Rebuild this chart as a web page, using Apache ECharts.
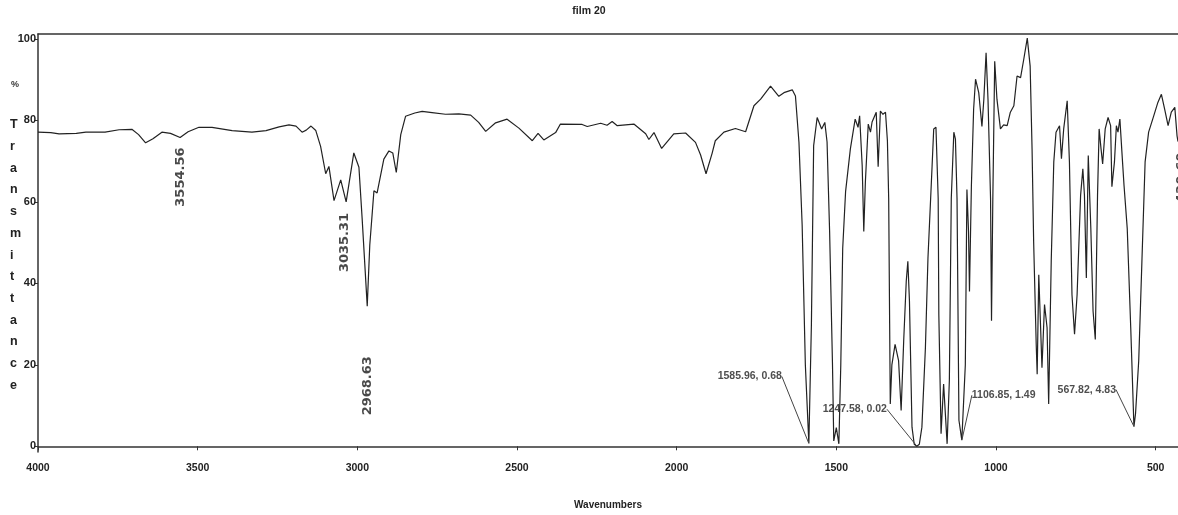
<!DOCTYPE html>
<html>
<head>
<meta charset="utf-8">
<script src="https://cdn.jsdelivr.net/npm/echarts@6/dist/echarts.min.js"></script>
<style>
html,body{margin:0;padding:0;background:#fff;}
#chart{width:1178px;height:515px;}
</style>
</head>
<body>
<div id="chart"></div>
<script>
// ---- data ----
const wavenumbers = [
4000,3960,3934,3880,3850,3790,3746,3706,3685,3663,3640,3612,3585,3555,3530,3496,3455,3392,3330,3286,
3245,3214,3192,3173,3160,3145,3130,3115,3099,3089,3073,3052,3035,3011,2995,2985,2969,2961,2948,2938,
2917,2901,2889,2878,2864,2849,2820,2797,2766,2724,2682,2645,2620,2598,2567,2531,2494,2452,2434,2416,
2379,2364,2296,2280,2238,2218,2202,2186,2134,2097,2087,2071,2047,2009,1972,1941,1925,1908,1889,1879,
1852,1816,1784,1758,1737,1706,1680,1664,1638,1628,1617,1607,1597,1586,1578,1571,1560,1546,1536,1529,
1521,1512,1508,1500,1492,1486,1480,1471,1456,1441,1432,1427,1419,1414,1409,1400,1393,1388,1383,1375,
1369,1362,1354,1346,1340,1336,1333,1331,1326,1316,1305,1297,1289,1281,1276,1271,1263,1256,1248,1240,
1232,1221,1213,1200,1195,1188,1181,1179,1172,1164,1153,1146,1140,1132,1127,1122,1116,1107,1096,1091,
1086,1083,1077,1070,1064,1054,1044,1038,1031,1025,1017,1014,1010,1004,997,986,976,965,955,944,
934,923,913,902,893,887,882,874,871,866,861,856,848,840,835,827,819,812,801,795,
788,777,770,762,754,746,735,728,723,717,711,703,696,689,682,677,671,666,658,649,
641,637,629,623,618,612,605,599,589,578,568,563,553,543,533,522,506,493,482,472,
461,451,440,433,430
];
const transmittance = [
77.1,77.0,76.7,76.8,77.1,77.1,77.7,77.8,76.5,74.5,75.5,77.1,76.8,75.8,77.2,78.3,78.3,77.5,77.1,77.5,
78.4,78.9,78.6,77.1,77.6,78.6,77.5,73.6,66.9,68.7,60.3,65.4,60.0,72.0,68.5,56.0,34.4,49.4,62.7,62.2,
70.5,72.5,72.0,67.2,76.5,81.0,81.8,82.2,81.9,81.5,81.6,81.3,79.5,77.3,79.4,80.3,78.1,75.0,76.8,75.2,
77.0,79.1,79.0,78.5,79.3,78.8,79.7,78.7,79.1,76.7,75.3,77.0,73.1,76.7,76.9,74.6,71.5,66.9,71.9,75.0,
77.1,78.0,77.2,83.6,85.2,88.4,85.9,86.8,87.5,86.0,74.6,54.3,20.0,0.68,30.0,73.8,80.7,77.9,79.5,74.7,
52.7,20.0,1.3,4.6,0.6,20.0,48.6,62.5,73.0,80.3,78.3,81.1,68.9,52.7,64.9,79.1,77.1,79.6,79.9,82.0,
68.6,82.3,81.5,82.0,75.0,60.8,30.0,10.4,20.0,25.0,21.0,8.8,25.9,40.5,45.4,35.7,4.7,0.5,0.02,0.5,
4.7,24.2,46.2,68.9,77.9,78.3,60.8,32.4,3.1,15.3,0.6,16.2,60.8,77.1,75.4,60.8,6.4,1.49,20.0,63.0,
52.7,38.0,64.0,82.8,90.1,86.8,78.5,85.2,96.6,85.2,60.8,30.8,60.0,94.5,85.2,77.9,78.9,78.7,82.0,83.6,
90.9,90.5,95.0,100.2,93.3,73.0,50.0,25.0,17.7,42.1,30.8,19.3,34.8,29.1,10.4,45.4,69.8,77.1,78.7,70.6,
77.9,84.8,69.8,37.2,27.5,37.2,61.6,68.1,61.6,41.3,71.4,53.5,33.2,26.2,61.6,77.9,73.0,69.3,77.9,80.7,
78.7,63.7,69.8,78.7,77.1,80.3,71.4,64.0,53.5,29.1,4.83,8.0,21.0,45.4,69.8,77.1,81.1,84.4,86.4,82.8,
78.7,82.0,83.2,76.2,74.8
];
// vertical peak labels
const vPeakWn = [3554.56, 3035.31, 2968.63, 430.60];
const vPeakT  = [75.8, 60.0, 34.4, 74.5];
// annotated peaks with leader lines
const aPeakWn = [1585.96, 1247.58, 1106.85, 567.82];
const aPeakT  = [0.68, 0.02, 1.49, 4.83];
const xTicks = [4000, 3500, 3000, 2500, 2000, 1500, 1000, 500];
const yTicks = [0, 20, 40, 60, 80, 100];
const yLetters = ['T','r','a','n','s','m','i','t','t','a','n','c','e'];

// ---- layout / style (not data) ----
// rotated labels: [shift along text (negative = down), shift across (positive = right)]
const vLabelShift = [[-10, 0], [-11, -1], [-50, 0], [-10, 4]];
const aLabelShift = [[-27, -67, 'right'], [-30, -37, 'right'], [10, -45, 'left'], [-18, -37, 'right']];
const FONT = "'Liberation Sans', Arial, sans-serif";

const spectrum = wavenumbers.map((w, i) => [w, transmittance[i]]);
const vPeaks = vPeakWn.map((w, i) => [w, vPeakT[i]]);
const aPeaks = aPeakWn.map((w, i) => ({
  value: [w, aPeakT[i]],
  label: { align: aLabelShift[i][2] }
}));

const chart = echarts.init(document.getElementById('chart'), null, { renderer: 'canvas' });
chart.setOption({
  animation: false,
  backgroundColor: '#fff',
  title: {
    text: 'film 20', left: 'center', top: 1,
    textStyle: { fontSize: 10.5, fontWeight: 'bold', color: '#222', fontFamily: FONT }
  },
  grid: { left: 38, right: 0, top: 34, bottom: 60, show: false },
  xAxis: [{
    type: 'value', inverse: true, min: 430, max: 4000,
    name: 'Wavenumbers', nameLocation: 'middle', nameGap: 48,
    nameTextStyle: { fontSize: 10, fontWeight: 'bold', color: '#222', fontFamily: FONT },
    splitLine: { show: false },
    axisLine: { lineStyle: { color: '#333', width: 1.5 } },
    axisTick: { show: true, length: 4, customValues: xTicks, lineStyle: { color: '#333' } },
    axisLabel: { customValues: xTicks, margin: 11, formatter: v => String(v), fontSize: 10.5, fontWeight: 'bold', color: '#222', fontFamily: FONT }
  }, {
    type: 'value', inverse: true, min: 430, max: 4000, position: 'top',
    splitLine: { show: false },
    axisLine: { show: true, lineStyle: { color: '#333', width: 1.5 } },
    axisTick: { show: false }, axisLabel: { show: false }
  }],
  yAxis: {
    type: 'value', min: -1.4, max: 101.2,
    splitLine: { show: false },
    axisLine: { show: true, lineStyle: { color: '#333', width: 1.5 } },
    axisTick: { show: true, length: 4, customValues: yTicks, lineStyle: { color: '#333' } },
    axisLabel: { customValues: yTicks, margin: 2, fontSize: 11, fontWeight: 'bold', color: '#222', fontFamily: FONT }
  },
  graphic: [
    { type: 'text', left: 11, top: 80, style: { text: '%', fontSize: 9, fontWeight: 'bold', fill: '#333', fontFamily: FONT } },
    { type: 'text', left: 10, top: 114, style: { text: yLetters.join('\n'), fontSize: 12.5, lineHeight: 21.7, fontWeight: 'bold', fill: '#222', fontFamily: FONT } }
  ],
  series: [
    {
      type: 'line', data: spectrum, symbol: 'none', smooth: false,
      lineStyle: { color: '#222', width: 1.2 }, silent: true, z: 3
    },
    {
      type: 'scatter', data: vPeaks, symbolSize: 0, silent: true, z: 4, clip: false,
      label: {
        show: true, position: 'inside', rotate: 90, align: 'right', verticalAlign: 'middle',
        formatter: p => p.value[0].toFixed(2),
        fontSize: 13, fontWeight: 'bold', color: '#1a1a1a', fontFamily: "'DejaVu Sans', sans-serif"
      },
      labelLayout: p => ({ dx: vLabelShift[p.dataIndex][0], dy: vLabelShift[p.dataIndex][1] })
    },
    {
      type: 'scatter', data: aPeaks, symbolSize: 1, itemStyle: { color: 'rgba(0,0,0,0)' }, silent: true, z: 4,
      label: {
        show: true, position: 'inside', verticalAlign: 'middle',
        formatter: p => p.value[0].toFixed(2) + ', ' + p.value[1].toFixed(2),
        fontSize: 10.5, fontWeight: 'bold', color: '#222', fontFamily: FONT
      },
      labelLine: { show: true, lineStyle: { color: '#444', width: 1 } },
      labelLayout: p => ({ dx: aLabelShift[p.dataIndex][0], dy: aLabelShift[p.dataIndex][1] })
    }
  ]
});
</script>
</body>
</html>
